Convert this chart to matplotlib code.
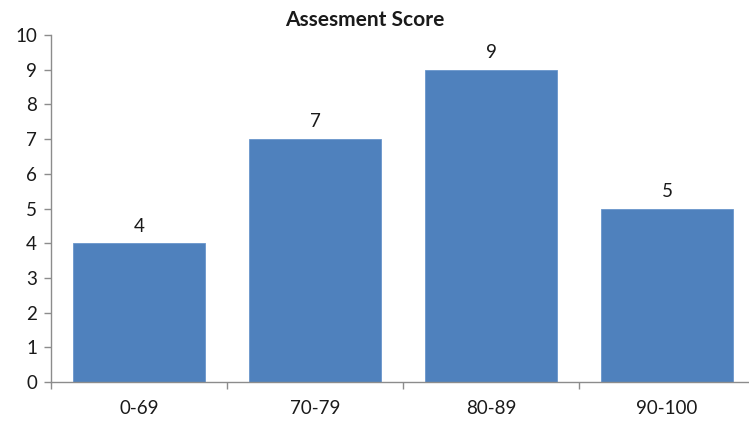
import matplotlib.pyplot as plt

categories = ['0-69', '70-79', '80-89', '90-100']
scores = [4, 7, 9, 5]
yticks = list(range(0, 11))

plt.rcParams['font.family'] = ['Lato', 'DejaVu Sans']

fig = plt.figure(figsize = (7.49, 4.29), dpi = 100)
ax = fig.add_axes([51 / 749, 47 / 429, 704 / 749, 347 / 429])

xs = list(range(len(categories)))
bars = ax.bar(
    xs, scores,
    width = 0.755,
    color = '#4F81BD',
    edgecolor = '#6A96CC',
    lw = 0.6
    )

for x, v in zip(xs, scores):
    ax.text(
        x, v + 0.25, str(v),
        ha = 'center', va = 'bottom',
        fontsize = 13.5, color = '#1a1a1a'
        )

ax.set_xlim(-0.5, len(categories) - 0.5)
ax.set_ylim(0, 10)
ax.set_yticks(yticks)
ax.set_xticks(xs)
ax.set_xticklabels(categories)
ax.set_xticks([i - 0.5 for i in range(len(categories) + 1)], minor = True)

for s in ['top', 'right']:
    ax.spines[s].set_visible(False)
for s in ['left', 'bottom']:
    ax.spines[s].set_color('#8c8c8c')
    ax.spines[s].set_linewidth(1.0)

ax.tick_params(axis = 'y', length = 5, width = 1, color = '#8c8c8c',
               labelsize = 13.5, labelcolor = '#1a1a1a', pad = 5)
ax.tick_params(axis = 'x', which = 'major', length = 0,
               labelsize = 13.5, labelcolor = '#1a1a1a', pad = 13)
ax.tick_params(axis = 'x', which = 'minor', length = 5, width = 1,
               color = '#8c8c8c')

fig.text(
    365 / 749, 1 - 20 / 429, 'Assesment Score',
    ha = 'center', va = 'center',
    fontsize = 15, fontweight = 'bold', color = '#1a1a1a'
    )

fig.savefig('out.png', dpi = 100)
